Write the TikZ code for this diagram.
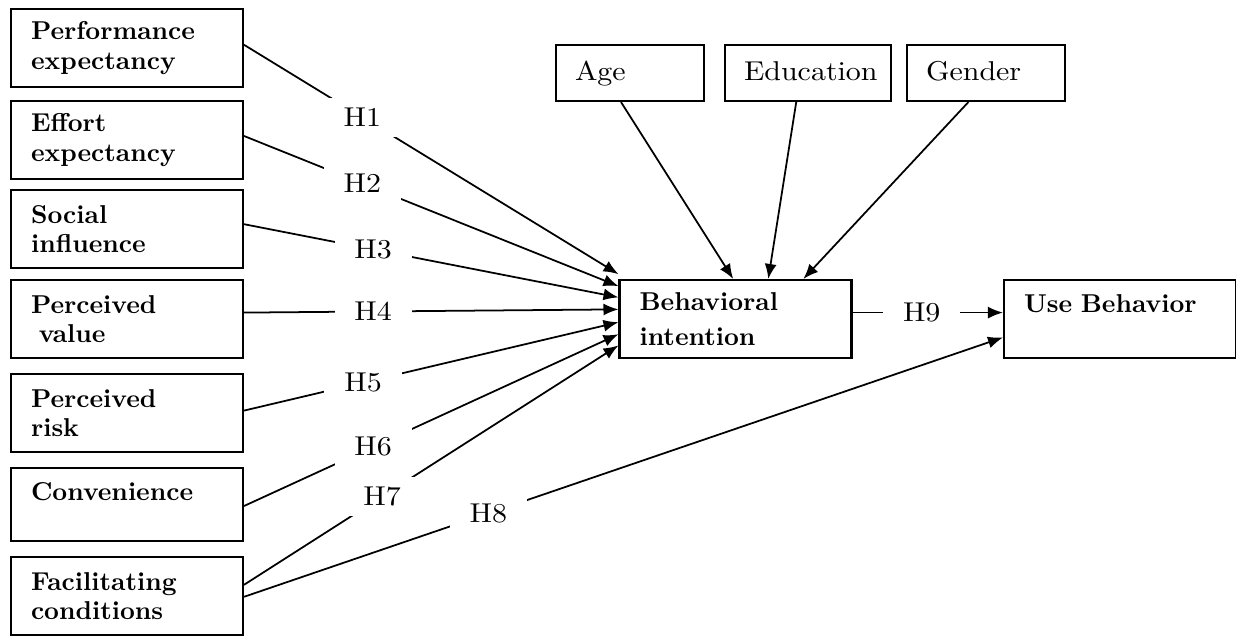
\documentclass[tikz,border=0pt]{standalone}
\usepackage{fontspec}
\setmainfont{lmroman10-regular.otf}[BoldFont=lmroman10-bold.otf, FakeStretch=1.1]
\newfontfamily\labelbold{lmroman10-bold.otf}
\usepackage{tikz}
\usetikzlibrary{calc, arrows.meta}

\tikzset{
  construct/.style={draw, line width=1.2pt, align=left, text width=3.84cm, inner xsep=0.4cm,
    minimum height=1.56cm, font=\labelbold\fontsize{14.7}{16.8}\selectfont},
  moderator/.style={draw, line width=1.2pt, align=left, text width=#1, inner xsep=0.38cm,
    minimum height=1.12cm, text height=0.4cm, text depth=0.11cm, font=\fontsize{15.5}{19}\selectfont},
  toptext/.style={text height=0.36cm, text depth=#1},
  hyp/.style={fill=white, inner xsep=0.4cm, inner ysep=0.2cm, font=\fontsize{15.5}{19}\selectfont},
  link/.style={line width=1pt, -{Latex[length=0.3cm, width=0.24cm]}}
}

\begin{document}
\begin{tikzpicture}[x=0.02cm, y=-0.02cm]

    % Page frame (pixel grid of the original, y pointing down)
    \useasboundingbox (0,0) rectangle (1236,635);

    % Predictors on the left
    \node[construct] (pe) at (127,48) {Performance\\expectancy};
    \node[construct] (ee) at (127,140) {Effort\\expectancy};
    \node[construct] (si) at (127,229) {Social\\influence};
    \node[construct] (pv) at (127,319) {Perceived\\\hspace*{0.3em}value};
    \node[construct] (pr) at (127,413) {Perceived\\risk};
    \node[construct, minimum height=1.46cm, toptext=0.54cm] (cv) at (127,504.5) {Convenience};
    \node[construct] (fc) at (127,596) {Facilitating\\conditions};

    % Moderators on top
    \node[moderator=2.2cm] (age) at (630,73) {Age};
    \node[moderator=2.56cm] (edu) at (808,73) {Education};
    \node[moderator=2.4cm] (gen) at (986,73) {Gender};

    % Intention and behaviour
    \node[construct, font=\labelbold\fontsize{14.7}{20}\selectfont] (bi) at (735.5,319) {Behavioral\\intention};
    \node[construct, toptext=0.64cm] (ub) at (1120,319) {Use Behavior};

    % Hypotheses H1--H7 into behavioral intention
    \draw[link] ($(pe.north east)!0.46!(pe.south east)$) -- node[hyp, pos=0.316] {H1} ($(bi.north west)!-0.06!(bi.south west)$);
    \draw[link] ($(ee.north east)!0.45!(ee.south east)$) -- node[hyp, pos=0.316] {H2} ($(bi.north west)!0.09!(bi.south west)$);
    \draw[link] ($(si.north east)!0.44!(si.south east)$) -- node[hyp, pos=0.345] {H3} ($(bi.north west)!0.23!(bi.south west)$);
    \draw[link] ($(pv.north east)!0.42!(pv.south east)$) -- node[hyp, pos=0.345] {H4} ($(bi.north west)!0.38!(bi.south west)$);
    \draw[link] ($(pr.north east)!0.47!(pr.south east)$) -- node[hyp, pos=0.318] {H5} ($(bi.north west)!0.54!(bi.south west)$);
    \draw[link] ($(cv.north east)!0.52!(cv.south east)$) -- node[hyp, pos=0.345] {H6} ($(bi.north west)!0.69!(bi.south west)$);
    \draw[link] ($(fc.north east)!0.36!(fc.south east)$) -- node[hyp, pos=0.369] {H7} ($(bi.north west)!0.83!(bi.south west)$);

    % H8 straight to use behavior, H9 from intention
    \draw[link] ($(fc.north east)!0.51!(fc.south east)$) -- node[hyp, pos=0.322] {H8} ($(ub.north west)!0.73!(ub.south west)$);
    \draw[link] ($(bi.north east)!0.42!(bi.south east)$) -- node[hyp, pos=0.46] {H9} ($(ub.north west)!0.42!(ub.south west)$);

    % Moderating paths
    \draw[link] ($(age.south west)!0.44!(age.south east)$) -- ($(bi.north west)!0.49!(bi.north east)$);
    \draw[link] ($(edu.south west)!0.43!(edu.south east)$) -- ($(bi.north west)!0.64!(bi.north east)$);
    \draw[link] ($(gen.south west)!0.39!(gen.south east)$) -- ($(bi.north west)!0.79!(bi.north east)$);

\end{tikzpicture}
\end{document}
